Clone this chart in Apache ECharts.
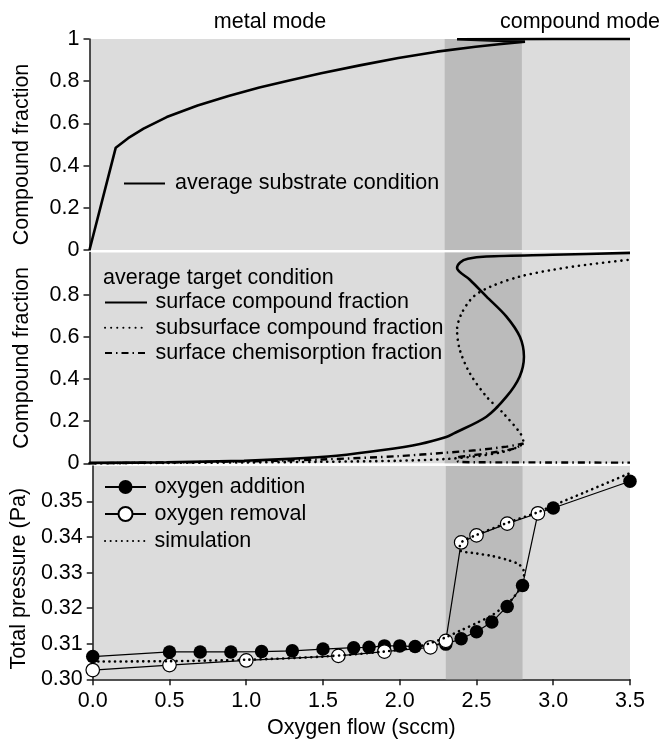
<!DOCTYPE html>
<html>
<head>
<meta charset="utf-8">
<script src="https://cdn.jsdelivr.net/npm/echarts@6/dist/echarts.min.js"></script>
<style>
  html, body { margin: 0; padding: 0; background: #fff; }
  #chart { width: 663px; height: 744px; }
</style>
</head>
<body>
<div id="chart"></div>
<script>
// Oxygen flow axis and the transition window between metal and compound mode
const flowTicks = [0, 0.5, 1.0, 1.5, 2.0, 2.5, 3.0, 3.5];
const transitionBand = [2.3, 2.8];

// Top panel: average substrate compound fraction (path follows the hysteresis loop)
const substrateFlow     = [0, 0.17, 0.25, 0.35, 0.5, 0.7, 0.9, 1.1, 1.3, 1.5, 1.75, 2.0, 2.25, 2.5, 2.65, 2.82, 2.6, 2.38, 3.0, 3.5];
const substrateFraction = [0, 0.485, 0.53, 0.575, 0.63, 0.685, 0.73, 0.77, 0.805, 0.838, 0.875, 0.91, 0.94, 0.963, 0.975, 0.987, 0.993, 0.999, 1.0, 1.0];
const substrateTicks = [0, 0.2, 0.4, 0.6, 0.8, 1];

// Middle panel: average target condition
const surfaceFlow     = [0, 0.5, 1.0, 1.3, 1.6, 1.9, 2.14, 2.31, 2.36, 2.57, 2.70, 2.785, 2.813, 2.787, 2.70, 2.571, 2.463, 2.38, 2.40, 2.45, 2.57, 3.0, 3.5];
const surfaceFraction = [0.002, 0.005, 0.012, 0.021, 0.036, 0.063, 0.092, 0.125, 0.142, 0.221, 0.316, 0.411, 0.506, 0.60, 0.696, 0.791, 0.871, 0.926, 0.953, 0.970, 0.981, 0.989, 0.998];

const subsurfaceFlow     = [0, 0.5, 1.0, 1.5, 2.0, 2.3, 2.5, 2.65, 2.75, 2.81, 2.79, 2.68, 2.571, 2.463, 2.398, 2.38, 2.41, 2.487, 2.6, 2.787, 3.0, 3.22, 3.5];
const subsurfaceFraction = [0, 0.002, 0.004, 0.007, 0.012, 0.02, 0.033, 0.05, 0.07, 0.10, 0.142, 0.237, 0.316, 0.427, 0.538, 0.633, 0.712, 0.791, 0.839, 0.886, 0.918, 0.942, 0.966];

const chemisorptionFlow     = [0, 0.5, 1.0, 1.5, 2.0, 2.3, 2.5, 2.7, 2.81, 2.75, 2.6, 2.45, 2.38, 2.39, 2.5, 3.0, 3.5];
const chemisorptionFraction = [0, 0.004, 0.009, 0.018, 0.034, 0.05, 0.062, 0.079, 0.094, 0.07, 0.05, 0.035, 0.025, 0.007, 0.005, 0.004, 0.003];
const targetTicks = [0, 0.2, 0.4, 0.6, 0.8];

// Bottom panel: measured and simulated total pressure
const additionFlow     = [0, 0.5, 0.7, 0.9, 1.1, 1.3, 1.5, 1.7, 1.8, 1.9, 2.0, 2.1, 2.3, 2.4, 2.5, 2.6, 2.7, 2.8, 2.9, 3.0, 3.5];
const additionPressure = [0.3064, 0.3077, 0.3077, 0.3077, 0.3078, 0.3080, 0.3085, 0.3089, 0.3090, 0.3094, 0.3094, 0.3092, 0.3099, 0.3114, 0.3134, 0.3161, 0.3205, 0.3264, 0.3467, 0.3482, 0.3557];

const removalFlow     = [0, 0.5, 1.0, 1.6, 1.9, 2.2, 2.3, 2.4, 2.5, 2.7, 2.9];
const removalPressure = [0.3026, 0.3040, 0.3053, 0.3066, 0.3078, 0.3090, 0.3108, 0.3385, 0.3405, 0.3438, 0.3467];

const simulationFlow     = [0, 0.5, 1.0, 1.5, 1.9, 2.1, 2.2, 2.3, 2.4, 2.5, 2.6, 2.7, 2.75, 2.8, 2.81, 2.78, 2.7, 2.6, 2.5, 2.39, 2.4, 2.5, 2.7, 2.9, 3.0, 3.2, 3.5];
const simulationPressure = [0.3050, 0.3051, 0.3055, 0.3064, 0.3078, 0.3090, 0.3102, 0.3118, 0.3138, 0.3158, 0.3180, 0.3212, 0.3235, 0.3268, 0.3300, 0.3322, 0.3336, 0.3347, 0.3354, 0.3364, 0.3385, 0.3406, 0.3440, 0.3470, 0.3489, 0.3525, 0.3580];
const pressureTicks = [0.30, 0.31, 0.32, 0.33, 0.34, 0.35];

const FONT = "'Liberation Sans', Arial, sans-serif";
const FS = 21.5;
const INK = '#000';
const AXIS = '#1a1a1a';
const LIGHT = '#dcdcdc';
const DARK = '#bbbbbb';

const pairs = (xs, ys) => xs.map((x, i) => [x, ys[i]]);

const DOTTED = { type: [0.1, 6], cap: 'round', width: 2.6, color: INK };
const DASHDOT = { type: [7, 4, 1.5, 4], cap: 'butt', width: 2.4, color: INK };
const SOLID = { type: 'solid', width: 2.6, color: INK };
const HIDDEN_SYMBOL = { color: 'transparent', borderColor: 'transparent', borderWidth: 0 };

const band = {
  silent: true,
  itemStyle: { color: DARK },
  data: [[{ xAxis: transitionBand[0] }, { xAxis: transitionBand[1] }]]
};

const gridBase = { left: 89.5, right: 33, show: true, backgroundColor: LIGHT, borderWidth: 0 };

function xAxisFor(idx, visible) {
  return {
    type: 'value', gridIndex: idx, min: 0, max: 3.5, interval: 0.5,
    show: visible,
    splitLine: { show: false },
    axisLine: { show: visible, onZero: false, lineStyle: { color: AXIS, width: 1.5 } },
    axisTick: { show: visible, length: 6, lineStyle: { color: AXIS, width: 1.5 }, customValues: flowTicks },
    axisLabel: {
      show: visible, margin: 11, color: INK, fontFamily: FONT, fontSize: FS,
      customValues: flowTicks, formatter: v => v.toFixed(1)
    },
    name: visible ? 'Oxygen flow (sccm)' : '',
    nameLocation: 'middle', nameGap: 38,
    nameTextStyle: { color: INK, fontFamily: FONT, fontSize: FS }
  };
}

// shift moves the rotated axis title downward along the axis
function yAxisFor(idx, name, min, max, interval, ticks, fmt, shift) {
  return {
    type: 'value', gridIndex: idx, min: min, max: max, interval: interval,
    splitLine: { show: false },
    axisLine: { show: true, lineStyle: { color: AXIS, width: 1.5 } },
    axisTick: { show: true, length: 6, lineStyle: { color: AXIS, width: 1.5 }, customValues: ticks },
    axisLabel: {
      margin: 10, color: INK, fontFamily: FONT, fontSize: FS,
      customValues: ticks, formatter: fmt
    },
    name: name, nameLocation: 'middle', nameGap: 56,
    nameTextStyle: { color: INK, fontFamily: FONT, fontSize: FS, padding: [0, 2 * shift, 0, 0] }
  };
}

const legendText = pad => ({ color: INK, fontFamily: FONT, fontSize: FS, padding: [0, 0, 0, pad] });

const option = {
  animation: false,
  backgroundColor: '#fff',
  grid: [
    Object.assign({ top: 39, height: 211 }, gridBase),
    Object.assign({ top: 252.5, height: 210.8 }, gridBase),
    Object.assign({ top: 466, height: 213.3 }, gridBase)
  ],
  xAxis: [xAxisFor(0, false), xAxisFor(1, false), xAxisFor(2, true)],
  yAxis: [
    yAxisFor(0, 'Compound fraction', 0, 1, 0.2, substrateTicks, v => String(+v.toFixed(1)), 10),
    yAxisFor(1, 'Compound fraction', 0, 1, 0.2, targetTicks, v => String(+v.toFixed(1)), 0),
    yAxisFor(2, 'Total pressure (Pa)', 0.30, 0.36, 0.01, pressureTicks, v => v.toFixed(2), 6)
  ],
  legend: [
    {
      data: ['average substrate condition'], orient: 'vertical', left: 123, top: 172.5, padding: 0,
      itemWidth: 41, itemHeight: 14, selectedMode: false, textStyle: legendText(5)
    },
    {
      data: ['surface compound fraction', 'subsurface compound fraction', 'surface chemisorption fraction'],
      orient: 'vertical', left: 104, top: 291.5, itemGap: 3.2, padding: 0,
      itemWidth: 42, itemHeight: 14, selectedMode: false, textStyle: legendText(3.5)
    },
    {
      data: ['oxygen addition', 'oxygen removal', 'simulation'],
      orient: 'vertical', left: 104, top: 476, itemGap: 5, padding: 0,
      itemWidth: 41, itemHeight: 17.5, selectedMode: false, textStyle: legendText(3.5)
    }
  ],
  graphic: [
    { type: 'text', x: 270, y: 22, style: { text: 'metal mode', font: FS + 'px ' + FONT, fill: INK, align: 'center', verticalAlign: 'middle' } },
    { type: 'text', x: 580, y: 22, style: { text: 'compound mode', font: FS + 'px ' + FONT, fill: INK, align: 'center', verticalAlign: 'middle' } },
    { type: 'text', x: 103, y: 278.5, style: { text: 'average target condition', font: FS + 'px ' + FONT, fill: INK, align: 'left', verticalAlign: 'middle' } }
  ],
  series: [
    {
      name: 'average substrate condition', type: 'line', xAxisIndex: 0, yAxisIndex: 0,
      data: pairs(substrateFlow, substrateFraction), symbol: 'none', clip: false,
      lineStyle: SOLID, itemStyle: HIDDEN_SYMBOL, markArea: band, z: 3
    },
    {
      name: 'surface compound fraction', type: 'line', xAxisIndex: 1, yAxisIndex: 1,
      data: pairs(surfaceFlow, surfaceFraction), symbol: 'none', smooth: 0.3, clip: false,
      lineStyle: SOLID, itemStyle: HIDDEN_SYMBOL, markArea: band, z: 3
    },
    {
      name: 'subsurface compound fraction', type: 'line', xAxisIndex: 1, yAxisIndex: 1,
      data: pairs(subsurfaceFlow, subsurfaceFraction), symbol: 'none', smooth: 0.3, clip: false,
      lineStyle: DOTTED, itemStyle: HIDDEN_SYMBOL, z: 3
    },
    {
      name: 'surface chemisorption fraction', type: 'line', xAxisIndex: 1, yAxisIndex: 1,
      data: pairs(chemisorptionFlow, chemisorptionFraction), symbol: 'none', smooth: 0.3, clip: false,
      lineStyle: DASHDOT, itemStyle: HIDDEN_SYMBOL, z: 3
    },
    {
      name: 'oxygen addition', type: 'line', xAxisIndex: 2, yAxisIndex: 2,
      data: pairs(additionFlow, additionPressure), symbol: 'circle', symbolSize: 13.5, clip: false,
      lineStyle: { color: INK, width: 1.2 }, itemStyle: { color: INK, borderColor: INK, borderWidth: 0 },
      markArea: band, z: 3
    },
    {
      name: 'oxygen removal', type: 'line', xAxisIndex: 2, yAxisIndex: 2,
      data: pairs(removalFlow, removalPressure), symbol: 'circle', symbolSize: 13.5, clip: false,
      lineStyle: { color: INK, width: 1.2 }, itemStyle: { color: '#fff', borderColor: INK, borderWidth: 1.2 },
      z: 4
    },
    {
      name: 'simulation', type: 'line', xAxisIndex: 2, yAxisIndex: 2,
      data: pairs(simulationFlow, simulationPressure), symbol: 'none', smooth: 0.3, clip: false,
      lineStyle: { type: [0.1, 5.5], cap: 'round', width: 2.6, color: INK }, itemStyle: HIDDEN_SYMBOL,
      z: 5
    }
  ]
};

const chart = echarts.init(document.getElementById('chart'), null, { renderer: 'canvas' });
chart.setOption(option);
</script>
</body>
</html>
